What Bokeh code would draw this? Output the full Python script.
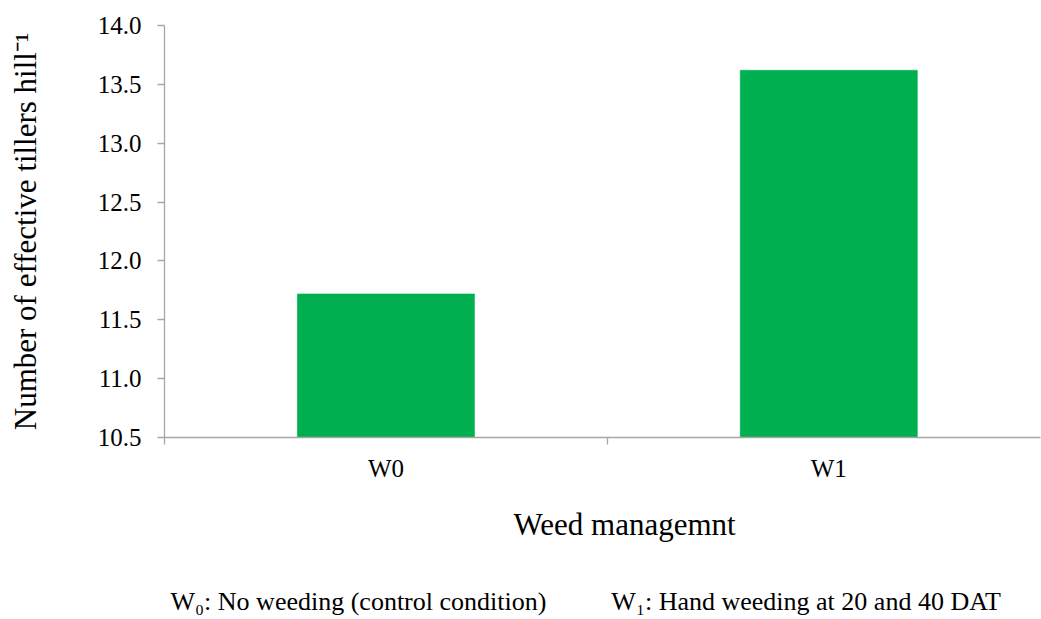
from bokeh.plotting import figure
from bokeh.models import Range1d, FixedTicker, Title, NumeralTickFormatter
from bokeh.embed import file_html
from bokeh.resources import INLINE

# ---- data ----
categories = ["W0", "W1"]
values = [11.72, 13.62]
y_ticks = [10.5, 11.0, 11.5, 12.0, 12.5, 13.0, 13.5, 14.0]
y_label = "Number of effective tillers hill\u207b\u00b9"
x_label = "Weed managemnt"
notes = ["W\u2080: No weeding (control condition)", "W\u2081: Hand weeding at 20 and 40 DAT"]

FONT = "Liberation Serif"
AXIS_COLOR = "#a6a6a6"
BAR_COLOR = "#00b050"

xs = [i + 0.5 for i in range(len(categories))]
boundaries = [float(i) for i in range(len(categories) + 1)]

# the category axis continues a little past the right edge of the picture
p = figure(width=1041, height=619, output_backend="svg", toolbar_location=None,
           title=None,
           x_range=Range1d(0, 1.978), y_range=Range1d(y_ticks[0], y_ticks[-1]),
           min_border_left=164, min_border_right=1, min_border_top=25,
           min_border_bottom=619 - 437)
p.outline_line_color = None
p.xgrid.visible = False
p.ygrid.visible = False

p.vbar(x=xs, top=values, bottom=y_ticks[0], width=0.4,
       fill_color=BAR_COLOR, line_color=BAR_COLOR, line_width=0.5)

xa = p.xaxis[0]
xa.ticker = FixedTicker(ticks=xs, minor_ticks=boundaries)
xa.major_label_overrides = {x: c for x, c in zip(xs, categories)}
xa.major_tick_in = 0
xa.major_tick_out = 0
xa.minor_tick_in = 0
xa.minor_tick_out = 7
xa.minor_tick_line_color = AXIS_COLOR
xa.minor_tick_line_width = 1.3
xa.axis_line_color = AXIS_COLOR
xa.axis_line_width = 1.3
xa.major_label_standoff = 10
xa.major_label_text_font = FONT
xa.major_label_text_font_size = "25px"
xa.major_label_text_color = "black"

ya = p.yaxis[0]
ya.ticker = FixedTicker(ticks=y_ticks, minor_ticks=[])
ya.formatter = NumeralTickFormatter(format="0.0")
ya.major_tick_in = 0
ya.major_tick_out = 7
ya.minor_tick_line_color = None
ya.major_tick_line_color = AXIS_COLOR
ya.major_tick_line_width = 1.3
ya.axis_line_color = AXIS_COLOR
ya.axis_line_width = 1.3
ya.major_label_standoff = 16
ya.major_label_text_font = FONT
ya.major_label_text_font_size = "25px"
ya.major_label_text_color = "black"
ya.axis_label = y_label
ya.axis_label_text_font = FONT
ya.axis_label_text_font_size = "31px"
ya.axis_label_text_font_style = "normal"
ya.axis_label_text_color = "black"
ya.axis_label_standoff = 52

# x-axis title
p.add_layout(Title(text=x_label, align="left", offset=513 - 164, standoff=41,
                   vertical_align="bottom",
                   text_font=FONT, text_font_size="31px", text_font_style="normal",
                   text_color="black"), "below")

# empty spacer between the axis title and the footnote
p.add_layout(Title(text="\u00a0", align="left", standoff=21, text_font_size="1px",
                   text_font_style="normal"), "below")

# footnote (two entries on one line)
gap = "\u00a0" * 10
p.add_layout(Title(text=gap.join(notes), align="left", offset=170 - 164, standoff=0,
                   vertical_align="top",
                   text_font=FONT, text_font_size="26px", text_font_style="normal",
                   text_color="black"), "below")

open("out.html", "w").write(file_html(p, INLINE))
